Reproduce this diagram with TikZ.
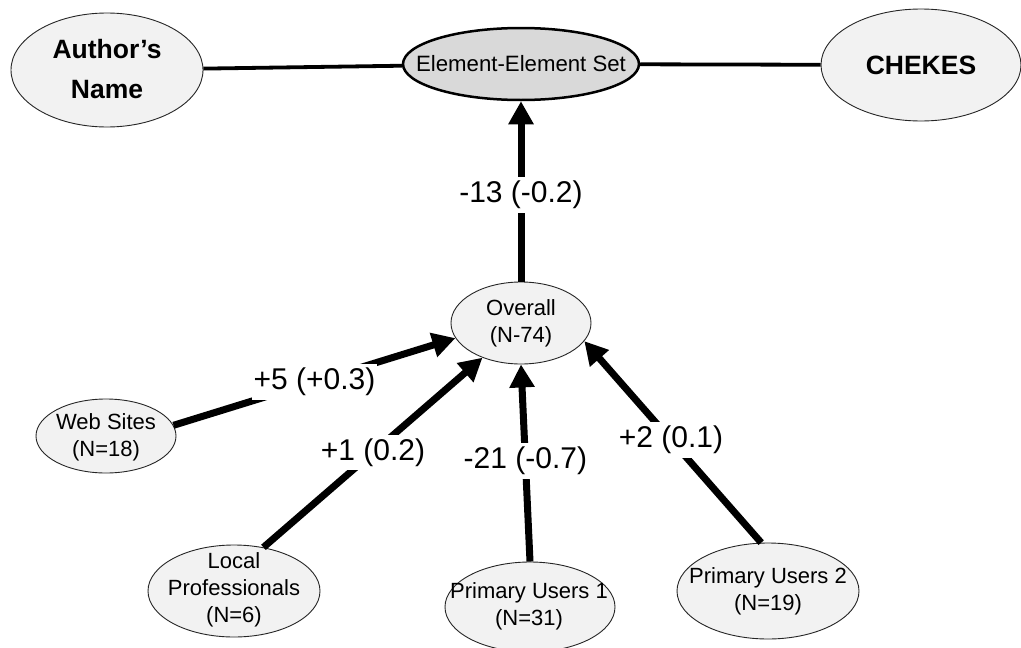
\documentclass[tikz,border=0pt]{standalone}
\usepackage{fontspec}
\setmainfont{Liberation Sans}
\usetikzlibrary{shapes.geometric,arrows.meta}
\definecolor{shade}{RGB}{242,242,242}
\definecolor{setshade}{RGB}{217,217,217}
\tikzset{
  blob/.style={ellipse, draw=black!85, line width=0.9pt, fill=shade, inner sep=0pt},
  setblob/.style={ellipse, draw=black, line width=2.5pt, fill=setshade, inner sep=0pt},
  small/.style={align=center, inner sep=0pt, font=\fontsize{22}{27}\selectfont},
  big/.style={align=center, inner sep=0pt, font=\fontsize{26.5}{40}\selectfont\bfseries},
  link/.style={line width=3.8pt},
  flow/.style={line width=7pt, -{Triangle[length=23pt,width=24pt]}},
  val/.style={fill=white, inner xsep=2pt, inner ysep=4pt, font=\fontsize{30}{34}\selectfont},
}
\begin{document}
\begin{tikzpicture}[x=1pt,y=-1pt]
  \fill[white] (0,0) rectangle (1021,648);
  \useasboundingbox (0,0) rectangle (1021,648);

  % top row
  \node[blob, minimum width=192pt, minimum height=114pt] (an) at (107,70) {};
  \node[big] (anT) at (107,69) {Author’s\\Name};
  \node[setblob, minimum width=236pt, minimum height=72pt] (ees) at (521,64) {};
  \node[inner sep=0pt, font=\fontsize{22.2}{26}\selectfont] (eesT) at (521,64) {Element-Element Set};
  \node[blob, minimum width=200pt, minimum height=112pt] (ck) at (921,65) {};
  \node[big] (ckT) at (921,65) {CHEKES};

  % overall group
  \node[blob, minimum width=140pt, minimum height=82pt] (ov) at (521,323) {};
  \node[small] (ovT) at (521,323) {Overall\\(N-74)};

  % contributing groups
  \node[blob, minimum width=140pt, minimum height=74pt] (ws) at (106,436) {};
  \node[small] (wsT) at (106,437) {Web Sites\\(N=18)};
  \node[blob, minimum width=172pt, minimum height=92pt] (lp) at (234,591) {};
  \node[small] (lpT) at (234,590) {Local\\Professionals\\(N=6)};
  \node[blob, minimum width=170pt, minimum height=90pt] (pu1) at (530,607) {};
  \node[small] (pu1T) at (529,606) {Primary Users 1\\(N=31)};
  \node[blob, minimum width=182pt, minimum height=96pt] (pu2) at (768,591) {};
  \node[small] (pu2T) at (768,591) {Primary Users 2\\(N=19)};

  % connectors
  \draw[link] (an) -- (ees);
  \draw[link] (ees) -- (ck);
  \draw[flow] (ov.north) -- (ees.south);
  \draw[flow] (ws.9) -- (ov.193);
  \draw[flow] (lp.56) -- (ov.222);
  \draw[flow] (pu1.north) -- (ov.south);
  \draw[flow] (pu2.98) -- (ov.344);

  % change labels, laid over the arrows
  \path (ov.north) -- (ees.south) node[val, pos=0.48] (l0) {-13 (-0.2)};
  \path (ws.9) -- (ov.193) node[val, pos=0.5] (l1) {+5 (+0.3)};
  \path (lp.56) -- (ov.222) node[val, pos=0.5] (l2) {+1 (0.2)};
  \path (pu1.north) -- (ov.south) node[val, pos=0.51] (l3) {-21 (-0.7)};
  \path (pu2.98) -- (ov.344) node[val, pos=0.51] (l4) {+2 (0.1)};
\end{tikzpicture}
\end{document}
